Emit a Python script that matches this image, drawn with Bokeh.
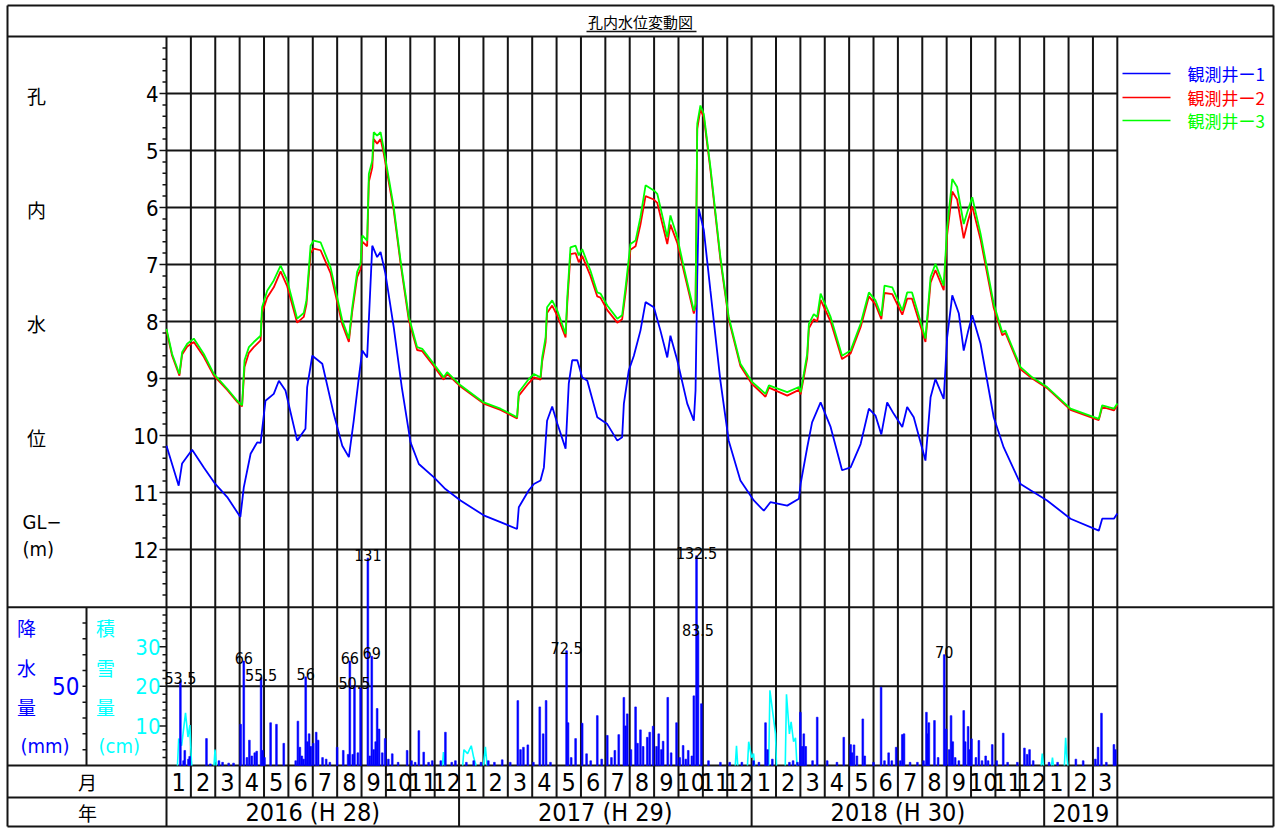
import math
from bokeh.plotting import figure
from bokeh.models import Range1d
from bokeh.core.properties import value
from bokeh.embed import file_html
from bokeh.resources import INLINE

# ---------------- data ----------------
# x = months since 2016-01-01 (0 = start of Jan 2016), value = water depth GL- (m)
well1 = [
    (0.00, 10.18), (0.50, 10.88), (0.64, 10.49), (1.05, 10.25), (1.53, 10.56), (2.00, 10.85),
    (2.49, 11.08), (3.03, 11.43), (3.17, 10.91), (3.45, 10.32), (3.72, 10.12), (3.86, 10.13),
    (4.06, 9.39), (4.40, 9.27), (4.61, 9.04), (4.88, 9.21), (5.36, 10.09), (5.70, 9.88),
    (5.77, 9.15), (5.98, 8.60), (6.39, 8.74), (6.86, 9.62), (7.21, 10.18), (7.48, 10.38),
    (7.68, 9.74), (7.89, 8.98), (8.03, 8.51), (8.23, 8.63), (8.44, 6.67), (8.64, 6.87),
    (8.78, 6.78), (8.98, 7.16), (9.32, 8.10), (9.65, 9.15), (10.01, 10.12), (10.35, 10.50),
    (10.96, 10.73), (11.44, 10.94), (12.06, 11.14), (13.01, 11.40), (13.70, 11.52), (14.38, 11.64),
    (14.45, 11.26), (14.86, 10.96), (15.07, 10.85), (15.34, 10.79), (15.48, 10.56), (15.61, 9.74),
    (15.82, 9.49), (16.03, 9.79), (16.37, 10.23), (16.50, 9.09), (16.64, 8.68), (16.85, 8.68),
    (17.05, 8.98), (17.26, 9.04), (17.67, 9.68), (18.08, 9.80), (18.49, 10.09), (18.69, 10.03),
    (18.76, 9.44), (18.96, 8.86), (19.17, 8.60), (19.44, 8.16), (19.65, 7.66), (19.99, 7.75),
    (20.26, 8.16), (20.54, 8.63), (20.67, 8.25), (20.95, 8.68), (21.36, 9.44), (21.63, 9.74),
    (21.70, 9.21), (21.77, 7.22), (21.83, 6.02), (22.04, 6.40), (22.31, 7.46), (22.72, 9.04),
    (23.06, 10.09), (23.54, 10.79), (24.09, 11.14), (24.50, 11.32), (24.77, 11.17), (25.46, 11.23),
    (25.94, 11.11), (26.01, 10.85), (26.28, 10.21), (26.48, 9.77), (26.83, 9.42), (27.24, 9.85),
    (27.71, 10.61), (28.06, 10.56), (28.47, 10.15), (28.81, 9.53), (29.08, 9.65), (29.32, 9.98),
    (29.56, 9.42), (29.83, 9.62), (30.18, 9.85), (30.38, 9.50), (30.65, 9.68), (31.13, 10.44),
    (31.34, 9.33), (31.54, 9.01), (31.88, 9.36), (32.02, 8.28), (32.23, 7.54), (32.50, 7.86),
    (32.70, 8.51), (32.87, 8.19), (33.05, 7.89), (33.39, 8.39), (33.93, 9.68), (34.34, 10.21),
    (35.03, 10.85), (35.44, 10.96), (36.12, 11.14), (37.08, 11.46), (38.24, 11.67), (38.38, 11.46),
    (38.86, 11.46), (39.00, 11.37),
]
well2 = [
    (0.00, 8.16), (0.23, 8.60), (0.53, 8.95), (0.64, 8.58), (0.85, 8.44), (1.12, 8.36),
    (1.53, 8.62), (1.94, 8.95), (2.49, 9.20), (2.90, 9.41), (3.10, 9.49), (3.20, 8.80),
    (3.38, 8.55), (3.58, 8.45), (3.86, 8.33), (3.92, 7.85), (4.13, 7.58), (4.40, 7.40),
    (4.68, 7.12), (4.95, 7.38), (5.36, 8.02), (5.63, 7.92), (5.74, 7.70), (5.91, 6.80),
    (6.04, 6.72), (6.32, 6.75), (6.73, 7.15), (7.21, 8.05), (7.48, 8.36), (7.62, 7.82),
    (7.82, 7.22), (7.96, 7.08), (8.03, 6.60), (8.23, 6.68), (8.30, 5.55), (8.44, 5.30),
    (8.50, 4.80), (8.64, 4.88), (8.78, 4.80), (8.91, 5.05), (9.32, 6.05), (9.60, 6.98),
    (9.94, 7.98), (10.28, 8.50), (10.49, 8.52), (10.96, 8.78), (11.37, 9.02), (11.51, 8.92),
    (12.06, 9.14), (13.01, 9.44), (13.70, 9.55), (14.38, 9.70), (14.45, 9.30), (14.86, 9.08),
    (15.07, 8.98), (15.34, 9.02), (15.41, 8.70), (15.55, 8.36), (15.61, 7.85), (15.82, 7.72),
    (16.03, 7.90), (16.37, 8.28), (16.44, 7.68), (16.57, 6.82), (16.78, 6.80), (16.91, 6.96),
    (17.05, 6.85), (17.39, 7.20), (17.67, 7.56), (17.80, 7.58), (18.08, 7.80), (18.49, 8.02),
    (18.69, 7.96), (18.83, 7.50), (19.03, 6.74), (19.24, 6.68), (19.44, 6.30), (19.65, 5.80),
    (19.99, 5.86), (20.13, 5.92), (20.54, 6.64), (20.67, 6.30), (20.95, 6.62), (21.22, 7.12),
    (21.63, 7.86), (21.70, 7.74), (21.77, 4.62), (21.90, 4.28), (22.04, 4.42), (22.31, 5.34),
    (22.72, 6.92), (23.06, 7.96), (23.54, 8.78), (24.02, 9.10), (24.57, 9.32), (24.71, 9.16),
    (25.46, 9.30), (25.94, 9.20), (26.01, 9.28), (26.14, 8.98), (26.28, 8.64), (26.35, 8.12),
    (26.55, 7.96), (26.69, 8.00), (26.83, 7.62), (27.24, 8.00), (27.71, 8.66), (28.06, 8.56),
    (28.47, 8.10), (28.81, 7.56), (29.08, 7.70), (29.32, 7.96), (29.45, 7.50), (29.77, 7.52),
    (30.18, 7.88), (30.38, 7.60), (30.58, 7.60), (31.13, 8.36), (31.34, 7.32), (31.54, 7.10),
    (31.88, 7.45), (32.02, 6.48), (32.23, 5.72), (32.43, 5.86), (32.70, 6.54), (32.87, 6.24),
    (33.05, 5.98), (33.39, 6.56), (33.93, 7.76), (34.28, 8.24), (34.41, 8.20), (35.03, 8.84),
    (35.51, 9.00), (36.12, 9.17), (37.08, 9.55), (38.24, 9.73), (38.38, 9.50), (38.86, 9.56),
    (39.00, 9.47),
]
well3 = [
    (0.00, 8.13), (0.23, 8.57), (0.53, 8.92), (0.64, 8.54), (0.85, 8.39), (1.12, 8.30),
    (1.53, 8.57), (1.94, 8.92), (2.49, 9.18), (2.90, 9.39), (3.10, 9.47), (3.20, 8.68),
    (3.38, 8.45), (3.58, 8.36), (3.86, 8.25), (3.92, 7.75), (4.13, 7.46), (4.40, 7.28),
    (4.68, 7.02), (4.95, 7.28), (5.36, 7.95), (5.63, 7.85), (5.74, 7.63), (5.91, 6.67),
    (6.04, 6.58), (6.32, 6.61), (6.73, 7.05), (7.21, 7.98), (7.48, 8.30), (7.62, 7.75),
    (7.82, 7.13), (7.96, 6.99), (8.03, 6.49), (8.23, 6.58), (8.30, 5.41), (8.44, 5.18),
    (8.50, 4.68), (8.64, 4.74), (8.78, 4.68), (8.91, 4.97), (9.32, 5.99), (9.60, 6.93),
    (9.94, 7.92), (10.28, 8.45), (10.49, 8.48), (10.96, 8.74), (11.37, 8.98), (11.51, 8.89),
    (12.06, 9.12), (13.01, 9.42), (13.70, 9.53), (14.38, 9.68), (14.45, 9.24), (14.86, 9.01),
    (15.07, 8.92), (15.34, 8.98), (15.41, 8.63), (15.55, 8.28), (15.61, 7.75), (15.82, 7.63),
    (16.03, 7.81), (16.37, 8.22), (16.44, 7.57), (16.57, 6.70), (16.78, 6.67), (16.91, 6.84),
    (17.05, 6.73), (17.39, 7.11), (17.67, 7.49), (17.80, 7.51), (18.08, 7.72), (18.49, 7.95),
    (18.69, 7.89), (18.83, 7.40), (19.03, 6.64), (19.24, 6.58), (19.44, 6.17), (19.65, 5.61),
    (19.99, 5.70), (20.13, 5.76), (20.54, 6.52), (20.67, 6.14), (20.95, 6.52), (21.22, 7.05),
    (21.63, 7.81), (21.70, 7.69), (21.77, 4.53), (21.90, 4.21), (22.04, 4.36), (22.31, 5.29),
    (22.72, 6.87), (23.06, 7.92), (23.54, 8.74), (24.02, 9.06), (24.57, 9.27), (24.71, 9.12),
    (25.46, 9.24), (25.94, 9.15), (26.01, 9.24), (26.14, 8.92), (26.28, 8.57), (26.35, 8.04),
    (26.55, 7.87), (26.69, 7.92), (26.83, 7.51), (27.24, 7.92), (27.71, 8.60), (28.06, 8.51),
    (28.47, 8.04), (28.81, 7.49), (29.08, 7.63), (29.32, 7.90), (29.45, 7.37), (29.77, 7.40),
    (30.18, 7.81), (30.38, 7.49), (30.58, 7.49), (31.13, 8.30), (31.34, 7.22), (31.54, 6.99),
    (31.88, 7.37), (32.02, 6.35), (32.23, 5.50), (32.43, 5.64), (32.70, 6.29), (32.87, 6.05),
    (33.05, 5.82), (33.39, 6.46), (33.93, 7.69), (34.28, 8.19), (34.41, 8.16), (35.03, 8.80),
    (35.51, 8.98), (36.12, 9.15), (37.08, 9.53), (38.24, 9.71), (38.38, 9.47), (38.86, 9.53),
    (39.00, 9.44),
]

# daily rainfall (mm): (months since 2016-01-01, mm)
rain = [
    (0.57, 53.5), (0.70, 3), (0.75, 9.5), (0.90, 4), (0.95, 5.7), (1.64, 17), (1.80, 1),
    (2.15, 3), (2.30, 2), (2.55, 1.5), (2.75, 1.5),
    (3.04, 26), (3.17, 66), (3.30, 5), (3.40, 16), (3.50, 6), (3.62, 8), (3.70, 9), (3.88, 55.5),
    (3.95, 9.5), (4.02, 5), (4.27, 27), (4.51, 26), (4.81, 14),
    (5.30, 3), (5.39, 28), (5.47, 11.5), (5.55, 6), (5.62, 4), (5.71, 56), (5.78, 15), (5.85, 20), (5.92, 12),
    (6.02, 14), (6.14, 21), (6.22, 16), (6.40, 5), (6.55, 4), (6.70, 2),
    (7.00, 11.5), (7.25, 9.5), (7.45, 7), (7.52, 66), (7.64, 7), (7.71, 50.5), (7.85, 8), (7.96, 49),
    (8.26, 131), (8.34, 6), (8.42, 69), (8.50, 10), (8.58, 15), (8.64, 36), (8.72, 23), (8.85, 8), (8.97, 17),
    (9.10, 4), (9.26, 7.4), (9.50, 2), (9.87, 9.5),
    (10.05, 3), (10.20, 2), (10.35, 22), (10.55, 8.4), (10.75, 2), (10.90, 3),
    (11.25, 3), (11.44, 21), (11.70, 2), (11.85, 3),
    (12.30, 2), (12.60, 3), (12.90, 2), (13.20, 3), (13.45, 2), (13.77, 3.6),
    (14.10, 2), (14.41, 41), (14.52, 10), (14.64, 11.5), (14.82, 13),
    (15.05, 2), (15.31, 37), (15.45, 20), (15.57, 41), (15.75, 2),
    (16.41, 72.5), (16.47, 27), (16.60, 5), (16.78, 17),
    (17.05, 26.7), (17.23, 7.4), (17.40, 3), (17.67, 31.5), (17.85, 4),
    (18.08, 19), (18.25, 5), (18.39, 9.5), (18.55, 19.5), (18.76, 43), (18.83, 25), (18.90, 32.6),
    (19.05, 10), (19.24, 37), (19.32, 14), (19.44, 22.5), (19.55, 12), (19.72, 17.8), (19.82, 21), (19.96, 24.8),
    (20.10, 12), (20.19, 20), (20.30, 10), (20.37, 15.3), (20.56, 43), (20.70, 8), (20.92, 27),
    (21.05, 5), (21.19, 12.6), (21.30, 4), (21.40, 9.5), (21.55, 6), (21.63, 44), (21.74, 132.5),
    (21.80, 83.5), (21.94, 39),
    (22.23, 3), (22.72, 2), (23.10, 2), (23.60, 2),
    (24.08, 3), (24.30, 2), (24.57, 27), (24.65, 10), (24.85, 4),
    (25.55, 2), (25.70, 3), (25.88, 2),
    (26.00, 33.6), (26.07, 12), (26.14, 20), (26.22, 12), (26.50, 3), (26.69, 30.5),
    (27.10, 3), (27.50, 2), (27.78, 17.8),
    (28.06, 13.2), (28.12, 8), (28.20, 13), (28.32, 6), (28.56, 29.4), (28.64, 6),
    (29.00, 2), (29.31, 49.5), (29.45, 3), (29.62, 8), (29.75, 3), (29.93, 11.5),
    (30.10, 3), (30.18, 19.5), (30.25, 20), (30.50, 2), (30.80, 2),
    (31.05, 3), (31.17, 33.6), (31.22, 20), (31.27, 27), (31.50, 28.4), (31.65, 5), (31.90, 70), (31.98, 23),
    (32.10, 10), (32.18, 31.5), (32.25, 15), (32.35, 5), (32.50, 3), (32.70, 34.7), (32.76, 15),
    (32.88, 24.6), (32.95, 10), (33.02, 16.8),
    (33.20, 5), (33.32, 15.8), (33.45, 3), (33.60, 6), (33.70, 3), (33.87, 13.2),
    (34.05, 3), (34.32, 20.4), (34.50, 2),
    (34.90, 2), (35.19, 11), (35.30, 7), (35.40, 10), (35.55, 3),
    (36.20, 2), (36.55, 2), (37.30, 4), (37.60, 3),
    (38.10, 4), (38.21, 11.5), (38.35, 33), (38.55, 2), (38.86, 13.2), (38.92, 10),
]

# snow depth (cm): episodes separated by NaN
NaN = float("nan")
snow_t = [0.45, 0.50, 0.62, 0.78, 0.88, 0.96, 1.02, 1.04, NaN,
          1.95, 1.99, 2.04, NaN,
          11.32, 11.36, 11.41, NaN,
          12.15, 12.20, 12.35, 12.50, 12.60, 12.70, NaN,
          13.00, 13.08, 13.15, NaN,
          23.33, 23.38, 23.43, NaN,
          23.83, 23.88, 24.00, 24.08, 24.12, NaN,
          24.70, 24.75, 24.98, 25.02, NaN,
          25.38, 25.43, 25.55, 25.62, 25.72, 25.80, 25.86, NaN,
          35.88, 35.92, 35.97, NaN,
          36.30, 36.34, 36.38, NaN,
          36.83, 36.88, 36.92, 36.97]
snow_cm = [0, 6.8, 5, 13.3, 7.2, 10.2, 1.3, 0, NaN,
           0, 4, 0, NaN,
           0, 3.4, 0, NaN,
           0, 4, 3, 5, 2, 0, NaN,
           0, 4.7, 0, NaN,
           0, 5, 0, NaN,
           0, 6, 2, 3, 0, NaN,
           0, 19, 8, 0, NaN,
           0, 18, 8, 11, 6, 7, 0, NaN,
           0, 3, 0, NaN,
           0, 2, 0, NaN,
           0, 7, 3, 0]

title_text = "孔内水位変動図"
series_names = ["観測井ー1", "観測井ー2", "観測井ー3"]
series_colors = ["#0000FF", "#FF0000", "#00FF00"]
month_labels = ["1", "2", "3", "4", "5", "6", "7", "8", "9", "10", "11", "12"] * 3 + ["1", "2", "3"]
year_labels = ["2016 (H 28)", "2017 (H 29)", "2018 (H 30)", "2019"]
year_month_counts = [12, 12, 12, 3]
depth_ticks = [4, 5, 6, 7, 8, 9, 10, 11, 12]
snow_ticks = [10, 20, 30]
rain_ticks = [50]
label_threshold = 50  # rainfall values >= this are annotated

# ---------------- layout (picture pixel geometry) ----------------
W, H = 1275, 828
LEFT_PX, RIGHT_PX, TOP_PX, BOT_PX = 0.0, 1275.0, 0.0, 828.0
BOX_L, BOX_R, BOX_T, BOX_B = 7.0, 1273.0, 5.0, 826.0
X0, MW = 166.0, 24.38          # x pixel of month 0, pixels per month
Y_HEAD, PPM = 36.0, 57.0       # y pixel of depth 3 m, pixels per metre
Y_BASE, PP_MM, PP_CM = 765.0, 1.583, 3.9575
Y_RAIN_TOP, Y_MONTH_BOT = 606.7, 797.0
NMONTH = len(month_labels)
X_END = X0 + NMONTH * MW

NARROW = "Liberation Sans Narrow, DejaVu Sans Condensed, Liberation Sans, sans-serif"
CJK = "Noto Sans CJK JP"
INK = "#141414"

p = figure(width=W, height=H, output_backend="svg", toolbar_location=None,
           x_axis_location=None, y_axis_location=None, title=None,
           x_range=Range1d((LEFT_PX - X0) / MW, (RIGHT_PX - X0) / MW),
           y_range=Range1d(3 + (BOT_PX - Y_HEAD) / PPM, 3 + (TOP_PX - Y_HEAD) / PPM),
           min_border=0, outline_line_color=None,
           background_fill_color="white", border_fill_color="white")
p.extra_x_ranges = {"px": Range1d(LEFT_PX, RIGHT_PX)}
p.extra_y_ranges = {
    "px": Range1d(BOT_PX, TOP_PX),
    "rain": Range1d((Y_BASE - BOT_PX) / PP_MM, (Y_BASE - TOP_PX) / PP_MM),
    "snow": Range1d((Y_BASE - BOT_PX) / PP_CM, (Y_BASE - TOP_PX) / PP_CM),
}
for g in p.grid:
    g.visible = False


def seg(x0, y0, x1, y1, xr="px", yr="px", color=INK, width=2.0):
    p.segment(x0=x0, y0=y0, x1=x1, y1=y1, x_range_name=xr, y_range_name=yr,
              line_color=color, line_width=width)


def txt(x, y, s, color="black", size=19, font=CJK, align="center", baseline="middle",
        xr="px", yr="px"):
    p.text(x=x, y=y, text=s, x_range_name=xr, y_range_name=yr, text_color=color,
           text_font=value(font), text_font_size=value(f"{size}px"),
           text_align=align, text_baseline=baseline)


# ---- outer box and table lines ----
seg([BOX_L, BOX_L, BOX_L, BOX_R], [BOX_T, BOX_B, BOX_T, BOX_T],
    [BOX_R, BOX_R, BOX_L, BOX_R], [BOX_T, BOX_B, BOX_B, BOX_B])
hl = [Y_HEAD, Y_RAIN_TOP, Y_BASE, Y_MONTH_BOT]
seg([BOX_L] * 4, hl, [BOX_R] * 4, hl)
seg([X0, X_END], [Y_HEAD, Y_HEAD], [X0, X_END], [BOX_B, BOX_B])
seg([86.0], [Y_RAIN_TOP], [86.0], [Y_BASE])

# month lines (through both panels and the month row) and year separators
mb = list(range(1, NMONTH))
seg(mb, [Y_HEAD] * len(mb), mb, [Y_MONTH_BOT] * len(mb), xr="default")
yb, acc = [], 0
for n in year_month_counts[:-1]:
    acc += n
    yb.append(acc)
seg(yb, [Y_MONTH_BOT] * len(yb), yb, [BOX_B] * len(yb), xr="default")

# horizontal water-level grid lines
seg([0] * len(depth_ticks), depth_ticks, [NMONTH] * len(depth_ticks), depth_ticks,
    xr="default", yr="default")
# rain/snow grid line (50 mm = 20 cm)
seg([0], rain_ticks, [NMONTH], rain_ticks, xr="default", yr="rain")

# ---- tick marks ----
minor_d = [round(3 + 0.2 * i, 2) for i in range(1, 50) if (i % 5) != 0]
seg([X0 - 4] * len(minor_d), minor_d, [X0] * len(minor_d), minor_d, yr="default", width=1.5)
seg([X0 - 7] * len(depth_ticks), depth_ticks, [X0] * len(depth_ticks), depth_ticks,
    yr="default", width=1.5)
minor_s = [c for c in range(2, 40, 2) if c % 10 != 0]
seg([X0 - 4] * len(minor_s), minor_s, [X0] * len(minor_s), minor_s, yr="snow", width=1.5)
seg([X0 - 7] * len(snow_ticks), snow_ticks, [X0] * len(snow_ticks), snow_ticks, yr="snow", width=1.5)
rt = list(range(10, 100, 10))
seg([82.0] * len(rt), rt, [86.0] * len(rt), rt, yr="rain", width=1.5)

# ---- tick labels ----
txt([158] * len(depth_ticks), depth_ticks, [str(v) for v in depth_ticks], size=22,
    font=NARROW, align="right", yr="default")
txt([160] * len(snow_ticks), snow_ticks, [str(v) for v in snow_ticks], color="#00FFFF",
    size=22, font=NARROW, align="right", yr="snow")
txt([79] * len(rain_ticks), rain_ticks, [str(v) for v in rain_ticks], color="#0000FF",
    size=24, font=NARROW, align="right", yr="rain")

# ---- left column captions ----
txt([36] * 4, [95, 209, 323, 437], ["孔", "内", "水", "位"], size=19)
txt([22], [521], ["GL−"], size=20, font=NARROW, align="left")
txt([22], [548], ["(m)"], size=20, font=NARROW, align="left")
txt([26] * 3, [627, 667, 706], ["降", "水", "量"], color="#0000FF", size=19)
txt([20], [745], ["(mm)"], color="#0000FF", size=20, font=NARROW, align="left")
txt([105] * 3, [627, 667, 706], ["積", "雪", "量"], color="#00FFFF", size=19)
txt([98], [745], ["(cm)"], color="#00FFFF", size=20, font=NARROW, align="left")
txt([87], [781], ["月"], size=19)
txt([87], [812], ["年"], size=19)

# ---- title ----
txt([640], [21], [title_text], size=15)
seg([586.0], [31.0], [696.0], [31.0], width=1.5)

# ---- month / year labels ----
txt([i + 0.5 for i in range(NMONTH)], [781] * NMONTH, month_labels, size=25,
    font=NARROW, xr="default")
yc, acc = [], 0
for n in year_month_counts:
    yc.append(acc + n / 2)
    acc += n
txt(yc, [812] * len(yc), year_labels, size=25, font=NARROW, xr="default")

# ---- snow depth and rainfall ----
p.line(snow_t, snow_cm, y_range_name="snow", line_color="#00FFFF", line_width=1.6)
r_t = [a for a, _ in rain]
r_v = [b for _, b in rain]
p.vbar(x=r_t, top=r_v, bottom=0, width=0.07, y_range_name="rain",
       fill_color="#0000FF", line_color="#0000FF", line_width=0.6)
lab = [(a, b) for a, b in rain if b >= label_threshold]
p.text(x=[a for a, _ in lab], y=[b for _, b in lab], text=[f"{b:g}" for _, b in lab],
       y_range_name="rain", text_align="center", text_baseline="bottom", y_offset=3,
       text_font=value(NARROW), text_font_size=value("16px"), text_color="black")

# ---- water levels ----
for data, col in [(well1, series_colors[0]), (well2, series_colors[1]), (well3, series_colors[2])]:
    p.line([a for a, _ in data], [b for _, b in data], line_color=col, line_width=1.8)

# ---- legend (drawn in the right-hand column) ----
ly = [73.0, 97.0, 120.0]
for y, name, col in zip(ly, series_names, series_colors):
    seg([1122.0], [y], [1170.0], [y], color=col, width=1.5)
    txt([1187], [y], [name], color=col, size=17, align="left")

open("out.html", "w").write(file_html(p, INLINE))
